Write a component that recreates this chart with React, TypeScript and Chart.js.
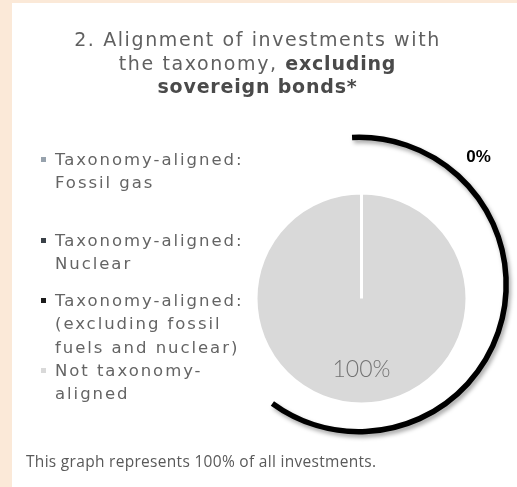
import React, { useEffect, useRef } from "react";
import { Chart, registerables } from "chart.js";

Chart.register(...registerables);

// ---- data ----
const categories = [
  "Taxonomy-aligned: Fossil gas",
  "Taxonomy-aligned: Nuclear",
  "Taxonomy-aligned: (excluding fossil fuels and nuclear)",
  "Not taxonomy-aligned",
];
const legendLines = [
  ["Taxonomy-aligned:", "Fossil gas"],
  ["Taxonomy-aligned:", "Nuclear"],
  ["Taxonomy-aligned:", "(excluding fossil", "fuels and nuclear)"],
  ["Not taxonomy-", "aligned"],
];
const shares = [0, 0, 0, 100];
const sliceColors = ["#97a2ad", "#3a4148", "#1c1c1c", "#d9d9d9"];
const alignedIdx = [0, 1, 2];
const notAlignedIdx = 3;
const titleLine1 = "2. Alignment of investments with";
const titleLine2Plain = "the taxonomy, ";
const titleLine2Bold = "excluding";
const titleLine3Bold = "sovereign bonds*";
const footnote = "This graph represents 100% of all investments.";

// ---- layout / style ----
const W = 517;
const H = 487;
const PEACH = "#fbe9d8";
const legendTops = [148, 229, 289, 359];
const LINE_H = 23.3;
const uiFont = "'DejaVu Sans', sans-serif";

const overlayPlugin = {
  id: "overlay",
  afterDatasetsDraw(chart: any) {
    const meta = chart.getDatasetMeta(0);
    const el = meta.data[notAlignedIdx];
    const { x, y, outerRadius } = el.getProps(["x", "y", "outerRadius"], true);
    const ctx: CanvasRenderingContext2D = chart.ctx;

    // callout arc
    ctx.save();
    ctx.shadowColor = "rgba(0,0,0,0.35)";
    ctx.shadowBlur = 4;
    ctx.shadowOffsetX = 2;
    ctx.shadowOffsetY = 3;
    ctx.strokeStyle = "#000";
    ctx.lineWidth = 5.5;
    ctx.lineCap = "butt";
    ctx.beginPath();
    ctx.arc(x - 2.5, y - 14, outerRadius * 1.395, -1.618, 2.2);
    ctx.stroke();
    ctx.restore();

    // labels
    const ds = chart.data.datasets[0].data as number[];
    const aligned = alignedIdx.reduce((s, i) => s + ds[i], 0);
    ctx.save();
    ctx.textAlign = "center";
    ctx.textBaseline = "middle";
    ctx.fillStyle = "#000";
    ctx.font = "bold 17px 'Liberation Sans', sans-serif";
    ctx.fillText(`${aligned}%`, x + 117, y - 141);
    ctx.fillStyle = "#737373";
    ctx.font = "300 23px Lato, sans-serif";
    ctx.fillText(`${ds[notAlignedIdx]}%`, x, y + 71);
    ctx.restore();
  },
};

export default function App() {
  const canvasRef = useRef<HTMLCanvasElement | null>(null);

  useEffect(() => {
    const canvas = canvasRef.current;
    if (!canvas) return;
    const R = 107;
    const cx = 361.5;
    const cy = 298.5;
    const chart = new Chart(canvas, {
      type: "pie",
      data: {
        labels: categories,
        datasets: [
          {
            data: shares,
            backgroundColor: sliceColors,
            borderColor: "#ffffff",
            borderWidth: 3,
          },
        ],
      },
      options: {
        responsive: false,
        animation: false,
        events: [],
        layout: {
          padding: {
            left: cx - R,
            right: W - cx - R,
            top: cy - R,
            bottom: H - cy - R,
          },
        },
        plugins: {
          legend: { display: false },
          tooltip: { enabled: false },
          title: { display: false },
        },
      },
      plugins: [overlayPlugin],
    });
    return () => chart.destroy();
  }, []);

  return (
    <div
      style={{
        position: "fixed",
        left: 0,
        top: 0,
        width: W,
        height: H,
        background: PEACH,
        overflow: "hidden",
      }}
    >
      <div
        style={{
          position: "absolute",
          left: 12,
          top: 3,
          right: 0,
          bottom: 0,
          background: "#ffffff",
        }}
      />
      <canvas
        ref={canvasRef}
        width={W}
        height={H}
        style={{ position: "absolute", left: 0, top: 0, width: W, height: H }}
      />
      <div
        style={{
          position: "absolute",
          left: 0,
          top: 28,
          width: 515,
          textAlign: "center",
          fontFamily: uiFont,
          fontSize: 19,
          fontWeight: 400,
          letterSpacing: 1.6,
          lineHeight: "23.5px",
          color: "#606060",
        }}
      >
        <div>{titleLine1}</div>
        <div>
          {titleLine2Plain}
          <b style={{ fontWeight: 700, color: "#4a4a4a", letterSpacing: 0.8 }}>{titleLine2Bold}</b>
        </div>
        <div>
          <b style={{ fontWeight: 700, color: "#4a4a4a", letterSpacing: 0.8 }}>{titleLine3Bold}</b>
        </div>
      </div>
      {legendLines.map((lines, i) => (
        <div
          key={i}
          style={{
            position: "absolute",
            left: 41,
            top: legendTops[i],
            fontFamily: uiFont,
            fontSize: 16.5,
            fontWeight: 400,
            letterSpacing: 1.95,
            lineHeight: `${LINE_H}px`,
            color: "#646464",
            whiteSpace: "nowrap",
          }}
        >
          <span
            style={{
              position: "absolute",
              left: 0,
              top: 9,
              width: 5,
              height: 5,
              background: sliceColors[i],
            }}
          />
          <div style={{ paddingLeft: 14 }}>
            {lines.map((l, j) => (
              <div key={j}>{l}</div>
            ))}
          </div>
        </div>
      ))}
      <div
        style={{
          position: "absolute",
          left: 26,
          top: 451,
          fontFamily: "'Open Sans', sans-serif",
          fontSize: 15.5,
          letterSpacing: 0.3,
          color: "#595959",
          whiteSpace: "nowrap",
          lineHeight: "20px",
        }}
      >
        {footnote}
      </div>
    </div>
  );
}
